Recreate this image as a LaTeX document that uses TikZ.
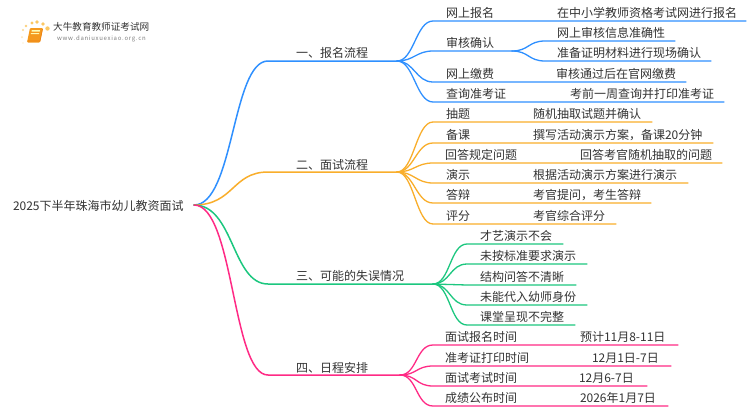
\documentclass[tikz,border=0pt]{standalone}
\usepackage{fontspec}
\setmainfont{Noto Sans CJK SC}
\definecolor{cblue}{HTML}{2F90FF}
\definecolor{corange}{HTML}{F9AE2B}
\definecolor{cgreen}{HTML}{1CC77F}
\definecolor{cpink}{HTML}{FF2A85}
\definecolor{ctext}{HTML}{333333}
\definecolor{sun}{HTML}{FBC864}
\definecolor{bookc}{HTML}{F59A1E}
\tikzset{
  lbl/.style={anchor=west,inner sep=0pt,outer sep=0pt,text=ctext,font=\fontsize{12}{12}\selectfont},
  wire/.style={line width=1.3pt,line cap=round},
  thick1/.style={line width=1.5pt,line cap=round},
}
% \twig{name}{colour}{parent}{x0}{y}{xend}{textx}{text}
\newcommand\twig[8]{%
  \coordinate (#1s) at (#4,#5);
  \coordinate (#1e) at (#6,#5);
  \draw[wire,#2] (#3) .. controls +(17,0) and +(-17,0) .. (#1s) -- (#1e);
  \node[lbl] (#1t) at (#7,#5-8) {#8};
}
\newcommand\val[4]{\node[lbl] (#1) at (#2,#3-8) {#4};}
\begin{document}
\begin{tikzpicture}[x=1pt,y=-1pt]
\useasboundingbox[fill=white] (0,0) rectangle (750,410);
% root
\node[lbl,font=\fontsize{12}{12}\selectfont] (root) at (13,205.5) {2025下半年珠海市幼儿教资面试};
\coordinate (r) at (194,205);
% level one
\coordinate (a) at (268,61);  \coordinate (ae) at (397,61);
\coordinate (b) at (268,172); \coordinate (be) at (397,172);
\coordinate (c) at (268,284); \coordinate (ce) at (433,284);
\coordinate (d) at (268,375); \coordinate (de) at (400,375);
\draw[thick1,cblue]   (r) .. controls +(40,0) and +(-36,0) .. (a) -- (ae);
\draw[thick1,corange] (r) .. controls +(40,0) and +(-36,0) .. (b) -- (be);
\draw[thick1,cgreen]  (r) .. controls +(40,0) and +(-36,0) .. (c) -- (ce);
\draw[thick1,cpink]   (r) .. controls +(40,0) and +(-36,0) .. (d) -- (de);
\node[lbl] (at) at (296,53)  {一、报名流程};
\node[lbl] (bt) at (296,165) {二、面试流程};
\node[lbl] (ct) at (296,276) {三、可能的失误情况};
\node[lbl] (dt) at (296,368) {四、日程安排};
% blue
\twig{a1}{cblue}{ae}{433}{21}{746}{446}{网上报名}
\val{a1v}{557}{21}{在中小学教师资格考试网进行报名}
\twig{a2}{cblue}{ae}{433}{51}{512}{446}{审核确认}
\twig{a21}{cblue}{a2e}{545}{41}{675}{557}{网上审核信息准确性}
\twig{a22}{cblue}{a2e}{545}{61}{711}{557}{准备证明材料进行现场确认}
\twig{a3}{cblue}{ae}{433}{82}{686}{446}{网上缴费}
\val{a3v}{556}{82}{审核通过后在官网缴费}
\twig{a4}{cblue}{ae}{433}{102}{724}{446}{查询准考证}
\val{a4v}{570}{102}{考前一周查询并打印准考证}
% orange
\twig{b1}{corange}{be}{433}{122}{652}{446}{抽题}
\val{b1v}{533}{122}{随机抽取试题并确认}
\twig{b2}{corange}{be}{433}{143}{713}{446}{备课}
\val{b2v}{533}{143}{撰写活动演示方案，备课20分钟}
\twig{b3}{corange}{be}{433}{163}{722}{445}{回答规定问题}
\val{b3v}{580}{163}{回答考官随机抽取的问题}
\twig{b4}{corange}{be}{433}{183}{688}{446}{演示}
\val{b4v}{533}{183}{根据活动演示方案进行演示}
\twig{b5}{corange}{be}{433}{203}{651}{446}{答辩}
\val{b5v}{533}{203}{考官提问，考生答辩}
\twig{b6}{corange}{be}{433}{224}{616}{446}{评分}
\val{b6v}{533}{224}{考官综合评分}
% green
\twig{c1}{cgreen}{ce}{467}{244}{563}{480}{才艺演示不会}
\twig{c2}{cgreen}{ce}{467}{264}{587}{480}{未按标准要求演示}
\twig{c3}{cgreen}{ce}{467}{285}{576}{480}{结构问答不清晰}
\twig{c4}{cgreen}{ce}{467}{305}{587}{480}{未能代入幼师身份}
\twig{c5}{cgreen}{ce}{467}{325}{575}{480}{课堂呈现不完整}
% pink
\twig{d1}{cpink}{de}{433}{345}{678}{445}{面试报名时间}
\val{d1v}{580}{345}{预计11月8-11日}
\twig{d2}{cpink}{de}{433}{366}{671}{445}{准考证打印时间}
\val{d2v}{592}{366}{12月1日-7日}
\twig{d3}{cpink}{de}{433}{386}{647}{445}{面试考试时间}
\val{d3v}{579}{386}{12月6-7日}
\twig{d4}{cpink}{de}{433}{406}{668}{445}{成绩公布时间}
\val{d4v}{580}{406}{2026年1月7日}
% logo
\foreach \x/\y/\r/\o in {23/43/.8/25,22/37/1/45,23/30/1.2/70,26/26/1.4/85,32/23/1.6/100,37/22/1.8/100,43/24/1.8/100,47.5/28.5/2.2/100}
  \fill[sun!\o!white] (\x,\y) circle (\r);
\fill[bookc,rounded corners=1pt] (30,28) -- (43,28) -- (40,42.5) -- (27,42.5) -- cycle;
\fill[white!70!yellow] (31.8,30) -- (40,30) -- (39.7,31.5) -- (31.5,31.5) -- cycle;
\fill[white!70!yellow] (31,33) -- (39.2,33) -- (39,34) -- (30.8,34) -- cycle;
\draw[orange!70!brown,line width=.7pt] (27.5,41) -- (40,41) -- (42.5,29);
\node[anchor=west,inner sep=0pt,text=ctext,font=\fontsize{9.6}{10}\selectfont] (logo) at (53,27) {大牛教育教师证考试网};
\node[anchor=west,inner sep=0pt,text=gray,font=\fontsize{6}{7}\selectfont] (url) at (57,39) {w\kern.7pt w\kern.7pt w\kern.7pt .\kern.7pt d\kern.7pt a\kern.7pt n\kern.7pt i\kern.7pt u\kern.7pt x\kern.7pt u\kern.7pt e\kern.7pt x\kern.7pt i\kern.7pt a\kern.7pt o\kern.7pt .\kern.7pt o\kern.7pt r\kern.7pt g\kern.7pt .\kern.7pt c\kern.7pt n};
\end{tikzpicture}
\end{document}
